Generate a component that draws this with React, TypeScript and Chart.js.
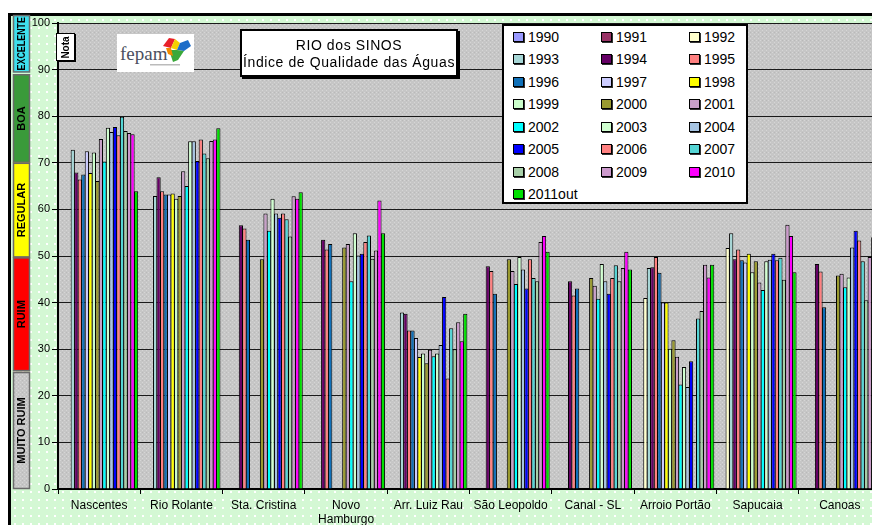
import React, { useEffect, useRef } from 'react';
import { Chart, registerables } from 'chart.js';
Chart.register(...registerables);

const N = null;

// Categories (sampling points along Rio dos Sinos)
const categories: (string | string[])[] = [
  'Nascentes', 'Rio Rolante', 'Sta. Cristina', ['Novo', 'Hamburgo'], 'Arr. Luiz Rau',
  'São Leopoldo', 'Canal - SL', 'Arroio Portão', 'Sapucaia', 'Canoas',
];

// IQA values per year, in category order
const y1990 = [N, N, N, N, N, N, N, N, N, N];
const y1991 = [N, N, N, N, N, N, N, N, N, N];
const y1992 = [N, N, N, N, N, N, N, 41.0, 51.7, N];
const y1993 = [72.8, 62.9, N, N, 37.9, N, N, 47.4, 54.9, N];
const y1994 = [67.9, 66.9, 56.6, 53.5, 37.6, 47.8, 44.6, 47.6, 49.3, 48.3];
const y1995 = [66.4, 63.9, 55.9, 51.4, 34.0, 46.8, 41.5, 49.8, 51.4, 46.7];
const y1996 = [67.5, 63.2, 53.5, 52.6, 34.0, 41.9, 43.0, 46.4, 49.1, 39.0];
const y1997 = [72.5, 63.2, N, N, 32.4, N, N, 40.0, 48.6, N];
const y1998 = [67.8, 63.4, N, N, 28.3, N, N, 40.0, 50.5, N];
const y1999 = [72.2, 62.3, N, N, 29.1, N, N, 30.1, 46.5, N];
const y2000 = [66.1, 62.9, 49.3, 51.8, 27.0, 49.3, 45.3, 31.9, 48.9, 45.8];
const y2001 = [75.1, 68.2, 59.1, 52.6, 29.9, 46.8, 43.6, 28.4, 44.3, 46.2];
const y2002 = [70.3, 65.0, 55.4, 44.6, 28.5, 44.0, 40.8, 22.4, 42.7, 43.3];
const y2003 = [77.5, 74.6, 62.3, 54.9, 29.1, 49.8, 48.3, 26.2, 48.9, 45.4];
const y2004 = [76.6, 74.6, 59.1, 50.1, 30.9, 47.1, 44.6, 21.9, 49.2, 51.8];
const y2005 = [77.7, 70.4, 58.2, 50.5, 41.2, 43.0, 41.9, 27.4, 50.5, 55.4];
const y2006 = [75.9, 75.0, 59.1, 53.0, 23.7, 49.3, 45.3, N, 49.1, 53.3];
const y2007 = [79.9, 72.0, 57.9, 54.4, 34.5, 45.3, 48.0, 36.6, 49.6, 48.9];
const y2008 = [76.8, 71.0, 54.2, 49.4, 30.0, 44.6, 44.6, 38.2, 44.9, 40.5];
const y2009 = [76.4, 74.7, 62.8, 51.2, 35.8, 53.0, 47.4, 48.1, 56.7, 49.8];
const y2010 = [76.1, 75.0, 62.3, 61.9, 31.7, 54.3, 50.9, 45.4, 54.3, 54.0];
const y2011out = [63.9, 77.4, 63.7, 54.9, 37.6, 50.9, 47.1, 48.1, 46.5, 52.0];

const seriesLabels = [
  '1990', '1991', '1992', '1993', '1994', '1995', '1996', '1997', '1998', '1999', '2000',
  '2001', '2002', '2003', '2004', '2005', '2006', '2007', '2008', '2009', '2010', '2011out',
];
const seriesValues = [
  y1990, y1991, y1992, y1993, y1994, y1995, y1996, y1997, y1998, y1999, y2000,
  y2001, y2002, y2003, y2004, y2005, y2006, y2007, y2008, y2009, y2010, y2011out,
];
const seriesColors = [
  '#9999ff', '#993366', '#ffffcc', '#a6d6d6', '#660066', '#ff8080', '#1070b8', '#ccccff',
  '#ffff00', '#ccffcc', '#9a9a30', '#c8a0c8', '#00ffff', '#d0ffd0', '#a6c4e2', '#0000ff',
  '#ff8080', '#55d5d5', '#a8d0a8', '#cc99cc', '#ff00ff', '#00e000',
];

// Y-axis ticks
const yMin = 0;
const yMax = 100;
const yStep = 10;

// Water-quality classes shown in the left band
const bandLabels = ['EXCELENTE', 'BOA', 'REGULAR', 'RUIM', 'MUITO RUIM'];
const bandFrom = [89.4, 70, 49.7, 25.3, 0];
const bandTo = [101.7, 89, 70, 49.7, 25.1];
const bandColors = ['#3ee0ee', '#3a9a3a', '#ffff00', '#ff0000', '#c4c4c4'];

const FONT = '"Liberation Sans", Arial, sans-serif';

function makePattern(ctx: CanvasRenderingContext2D) {
  const c = document.createElement('canvas');
  c.width = 4;
  c.height = 4;
  const p = c.getContext('2d')!;
  p.fillStyle = '#c6c6c6';
  p.fillRect(0, 0, 4, 4);
  p.fillStyle = '#d6d6d6';
  p.fillRect(0, 0, 1, 1);
  p.fillRect(2, 2, 1, 1);
  p.fillStyle = '#b9b9b9';
  p.fillRect(2, 0, 1, 1);
  return ctx.createPattern(c, 'repeat');
}

const bgPlugin = {
  id: 'plotBg',
  beforeDraw(chart: any) {
    const { ctx, chartArea } = chart;
    ctx.save();
    ctx.fillStyle = makePattern(ctx) || '#c6c6c6';
    ctx.fillRect(chartArea.left, chartArea.top, chartArea.right - chartArea.left, chartArea.bottom - chartArea.top);
    ctx.restore();
  },
};

const bandPlugin = {
  id: 'qualityBands',
  afterDraw(chart: any) {
    const { ctx } = chart;
    const y = chart.scales.y;
    const x0 = 13;
    const w = 17;
    ctx.save();
    for (let i = 0; i < bandLabels.length; i++) {
      const top = y.getPixelForValue(bandTo[i]);
      const bot = y.getPixelForValue(bandFrom[i]);
      ctx.fillStyle = i === 4 ? (makePattern(ctx) || bandColors[i]) : bandColors[i];
      ctx.fillRect(x0, top, w, bot - top);
      ctx.strokeStyle = '#6a6a6a';
      ctx.lineWidth = 1.5;
      ctx.strokeRect(x0 + 0.5, top + 0.5, w - 1, bot - top - 1);
      ctx.save();
      ctx.translate(x0 + w / 2 + 0.5, (top + bot) / 2);
      ctx.rotate(-Math.PI / 2);
      ctx.fillStyle = '#000';
      ctx.font = 'bold 11px ' + FONT;
      ctx.textAlign = 'center';
      ctx.textBaseline = 'middle';
      ctx.fillText(bandLabels[i], 0, 0, bot - top - 4);
      ctx.restore();
    }
    ctx.restore();
  },
};

export default function App() {
  const ref = useRef<HTMLCanvasElement | null>(null);

  useEffect(() => {
    if (!ref.current) return;
    const datasets = seriesLabels.map((label, i) => ({
      label,
      data: seriesValues[i],
      backgroundColor: seriesColors[i],
      borderColor: '#000',
      borderWidth: { top: 1, left: 1, right: 1, bottom: 0 },
      inflateAmount: 0,
      categoryPercentage: 0.94,
      barPercentage: 1.2,
    }));
    const chart = new Chart(ref.current, {
      type: 'bar',
      data: { labels: categories as any, datasets: datasets as any },
      options: {
        animation: false,
        responsive: false,
        layout: { padding: { left: 0, right: 3, top: 23, bottom: 0 } },
        plugins: {
          legend: { display: false },
          tooltip: { enabled: false },
          title: { display: false },
        },
        scales: {
          x: {
            offset: true,
            grid: {
              display: true,
              drawOnChartArea: false,
              drawTicks: true,
              tickLength: 5,
              color: '#000',
              offset: true,
              lineWidth: 1,
            },
            border: { display: true, color: '#000', width: 2 },
            ticks: {
              color: '#000',
              font: { size: 12, family: FONT },
              padding: 4,
              maxRotation: 0,
              autoSkip: false,
            },
            afterFit: (s: any) => {
              s.height = 36;
            },
          } as any,
          y: {
            min: yMin,
            max: yMax,
            ticks: { stepSize: yStep, color: '#000', font: { size: 11, family: FONT }, padding: 2 },
            grid: { color: '#1a1a1a', tickColor: '#000', tickLength: 6, lineWidth: 1 },
            border: { display: true, color: '#000', width: 2 },
            afterFit: (s: any) => {
              s.width = 58;
            },
          } as any,
        },
      },
      plugins: [bgPlugin, bandPlugin],
    });
    return () => chart.destroy();
  }, []);

  const legendRows: string[][] = [];
  for (let i = 0; i < seriesLabels.length; i += 3) legendRows.push(seriesLabels.slice(i, i + 3));
  const colX = [11, 99, 187];
  const rowY = 12.7;
  const rowStep = 22.5;

  return (
    <div
      style={{
        position: 'fixed',
        left: 0,
        top: 0,
        width: 872,
        height: 525,
        overflow: 'hidden',
        background: '#fff',
        fontFamily: FONT,
      }}
    >
      <div
        style={{
          position: 'absolute',
          left: 8,
          top: 13,
          width: 920,
          height: 600,
          boxSizing: 'border-box',
          border: '3px solid #000',
          backgroundColor: '#d4f8d4',
          backgroundImage: 'radial-gradient(circle, #ffffff 0.8px, transparent 1.3px)',
          backgroundSize: '8px 8px',
        }}
      />
      <canvas ref={ref} width={884} height={525} style={{ position: 'absolute', left: 0, top: 0 }} />

      {/* Nota box */}
      <div
        style={{
          position: 'absolute',
          left: 56,
          top: 33,
          width: 19,
          height: 28,
          boxSizing: 'border-box',
          border: '1.5px solid #000',
          boxShadow: '1px 1px 0 #000',
          background: '#fff',
          display: 'flex',
          alignItems: 'center',
          justifyContent: 'center',
        }}
      >
        <span style={{ transform: 'rotate(-90deg)', fontSize: 10, fontWeight: 'bold', whiteSpace: 'nowrap' }}>Nota</span>
      </div>

      {/* fepam logo */}
      <svg style={{ position: 'absolute', left: 117, top: 34 }} width={77} height={38}>
        <rect x={0} y={0} width={77} height={38} fill="#fff" />
        <text x={3} y={26} fontFamily='"Liberation Serif", serif' fontSize={19} fill="#4a4f60">fepam</text>
        <path d="M46 12 L52 4 L58 5 L54 14 Z" fill="#e8202a" />
        <path d="M54 14 L58 5 L63 9 L60 16 Z" fill="#f5d000" />
        <path d="M60 16 L63 9 L71 6 L74 12 L67 17 Z" fill="#1c6cc8" />
        <path d="M52 16 L60 16 L67 17 L61 26 L56 28 Z" fill="#3aa83a" />
        <path d="M49 14 L54 14 L56 22 L51 20 Z" fill="#f08a00" />
        <rect x={33} y={30} width={30} height={1.5} fill="#bbb" />
      </svg>

      {/* Title box */}
      <div
        style={{
          position: 'absolute',
          left: 240,
          top: 29,
          width: 218,
          height: 48,
          boxSizing: 'border-box',
          border: '2px solid #000',
          boxShadow: '2px 2px 0 #000',
          background: '#fff',
          textAlign: 'center',
          fontSize: 14,
          lineHeight: '17px',
          paddingTop: 6,
          color: '#000',
          letterSpacing: 0.6,
        }}
      >
        <div>RIO dos SINOS</div>
        <div>Índice de Qualidade das Águas</div>
      </div>

      {/* Legend */}
      <div
        style={{
          position: 'absolute',
          left: 502,
          top: 24,
          width: 246,
          height: 180,
          boxSizing: 'border-box',
          border: '2px solid #000',
          background: '#fff',
        }}
      >
        {legendRows.map((row, r) =>
          row.map((lab, c) => {
            const idx = r * 3 + c;
            return (
              <div
                key={lab}
                style={{
                  position: 'absolute',
                  left: colX[c] - 2,
                  top: rowY + r * rowStep - 2 - 9,
                  height: 18,
                  display: 'flex',
                  alignItems: 'center',
                  whiteSpace: 'nowrap',
                }}
              >
                <span
                  style={{
                    display: 'inline-block',
                    width: 9,
                    height: 8,
                    background: seriesColors[idx],
                    border: '1px solid #000',
                    boxShadow: '1px 1px 0 #333',
                    marginRight: 4,
                  }}
                />
                <span style={{ fontSize: 14, color: '#000' }}>{lab}</span>
              </div>
            );
          })
        )}
      </div>
    </div>
  );
}
